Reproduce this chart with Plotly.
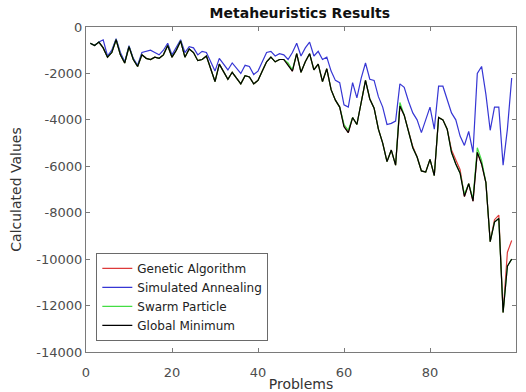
import plotly.graph_objects as go

problems = list(range(1, 100))

genetic_algorithm = [
    -700, -800, -650, -900, -1300, -1100, -550, -1200, -1550, -850,
    -1400, -1700, -1200, -1350, -1400, -1300, -1350, -1200, -800, -1300,
    -1000, -600, -1300, -950, -1100, -1450, -1400, -1250, -1800, -2350,
    -1600, -1950, -2250, -1950, -2200, -2450, -2100, -2150, -2450, -2300,
    -1900, -1500, -1300, -1500, -1400, -1400, -1600, -1900, -1150, -1950,
    -1500, -1150, -1850, -1600, -2350, -1800, -2700, -3150, -3450, -4250,
    -4550, -3900, -4200, -3200, -2300, -3100, -3500, -4400, -5000, -5800,
    -5300, -5950, -3400, -3800, -4500, -5150, -5600, -6200, -6250, -5700,
    -6400, -3900, -4000, -4400, -5300, -5750, -6150, -7300, -6750, -7500,
    -5400, -5900, -6700, -9250, -8300, -8100, -12300, -9700, -9200,
]

simulated_annealing = [
    -700, -800, -650, -550, -1250, -1000, -500, -1100, -1500, -800,
    -1350, -1650, -1100, -1050, -1000, -1100, -1200, -1000, -700, -1200,
    -900, -550, -1100, -850, -900, -1200, -1050, -1100, -1500, -1900,
    -1350, -1600, -1850, -1550, -1800, -2000, -1650, -1700, -2050, -1900,
    -1500, -1100, -1050, -1250, -1150, -1200, -1400, -1100, -700, -1250,
    -900, -650, -1250, -1050, -1400, -1300, -1900, -2300, -2400, -3350,
    -3450, -2400, -3050, -2200, -1550, -2250, -2300, -3000, -3450, -4200,
    -4150, -4050, -2450, -2600, -3200, -3700, -4000, -4550, -4000, -3450,
    -4400, -2550, -2550, -3150, -3700, -4000, -4700, -5100, -4500, -5400,
    -2000, -1700, -2900, -4450, -3450, -3450, -5950, -4400, -2200,
]

swarm_particle = [
    -700, -800, -650, -900, -1300, -1100, -550, -1200, -1550, -850,
    -1400, -1700, -1200, -1350, -1400, -1300, -1350, -1200, -800, -1300,
    -1000, -600, -1300, -950, -1100, -1450, -1400, -1250, -1800, -2350,
    -1600, -1950, -2250, -1950, -2200, -2450, -2100, -2150, -2450, -2300,
    -1900, -1500, -1300, -1500, -1400, -1400, -1550, -1850, -1150, -1950,
    -1500, -1150, -1850, -1600, -2350, -1800, -2700, -3150, -3450, -4200,
    -4450, -3900, -4200, -3200, -2300, -3100, -3500, -4400, -5000, -5800,
    -5300, -5950, -3250, -3800, -4500, -5200, -5600, -6200, -6250, -5700,
    -6400, -3900, -4000, -4400, -5400, -5900, -6300, -7200, -6750, -7400,
    -5200, -5750, -6700, -9250, -8400, -8250, -12300, -10300, -10000,
]

global_minimum = [
    -700, -800, -650, -900, -1300, -1100, -550, -1200, -1550, -850,
    -1400, -1700, -1200, -1350, -1400, -1300, -1350, -1200, -800, -1300,
    -1000, -600, -1300, -950, -1100, -1450, -1400, -1250, -1800, -2350,
    -1600, -1950, -2250, -1950, -2200, -2450, -2100, -2150, -2450, -2300,
    -1900, -1500, -1300, -1500, -1400, -1400, -1650, -1900, -1150, -1950,
    -1500, -1150, -1850, -1600, -2350, -1800, -2700, -3150, -3450, -4300,
    -4550, -3900, -4200, -3200, -2300, -3100, -3500, -4400, -5000, -5800,
    -5300, -5950, -3400, -3800, -4500, -5200, -5600, -6200, -6250, -5700,
    -6400, -3900, -4000, -4400, -5400, -5900, -6300, -7300, -6750, -7500,
    -5400, -5900, -6700, -9250, -8400, -8250, -12300, -10300, -10000,
]

series = [
    ("Genetic Algorithm", genetic_algorithm, "#dd3a3a"),
    ("Simulated Annealing", simulated_annealing, "#3636d4"),
    ("Swarm Particle", swarm_particle, "#44dd44"),
    ("Global Minimum", global_minimum, "#000000"),
]

x_ticks = [0, 20, 40, 60, 80, 100]
x_tick_labels = ["0", "20", "40", "60", "80", "100"]
y_ticks = [-14000, -12000, -10000, -8000, -6000, -4000, -2000, 0]
y_tick_labels = ["-14000", "-12000", "-10000", "-8000", "-6000", "-4000", "-2000", "0"]

fig = go.Figure()
for name, vals, color in series:
    fig.add_trace(go.Scatter(x=problems, y=vals, mode="lines", name=name,
                             line=dict(color=color, width=1.2)))

axis_common = dict(
    showline=True, linecolor="#7a7a7a", linewidth=1, mirror="ticks",
    ticks="inside", ticklen=4, tickcolor="#7a7a7a", showgrid=False,
    zeroline=False, automargin=False,
    tickfont=dict(family="DejaVu Sans", size=13, color="#4d4d4d"),
)

fig.update_layout(
    width=526, height=392,
    margin=dict(l=86, r=10, t=27, b=40),
    paper_bgcolor="white", plot_bgcolor="white",
    title=dict(text="<b>Metaheuristics Results</b>", x=0.57, xanchor="center",
               y=1 - 13 / 392, yanchor="middle", yref="container", xref="container",
               font=dict(family="DejaVu Sans", size=14, color="#111111")),
    xaxis=dict(range=[0, 100], tickvals=x_ticks, ticktext=x_tick_labels,
               ticklabelstandoff=8,
               title=dict(text="Problems", standoff=0,
                          font=dict(family="DejaVu Sans", size=14, color="#333333")),
               **axis_common),
    yaxis=dict(range=[-14000, 0], tickvals=y_ticks, ticktext=y_tick_labels,
               title=dict(text="Calculated Values", standoff=11,
                          font=dict(family="DejaVu Sans", size=14, color="#333333")),
               **axis_common),
    legend=dict(x=0.024, y=0.034, xanchor="left", yanchor="bottom",
                bgcolor="white", bordercolor="#6a6a6a", borderwidth=1,
                font=dict(family="DejaVu Sans", size=12, color="#222222"),
                tracegroupgap=0),
    showlegend=True,
)

fig.write_html("out.html", config={"displayModeBar": False},
               post_script="document.body.style.margin='0';document.body.style.overflow='hidden';")
